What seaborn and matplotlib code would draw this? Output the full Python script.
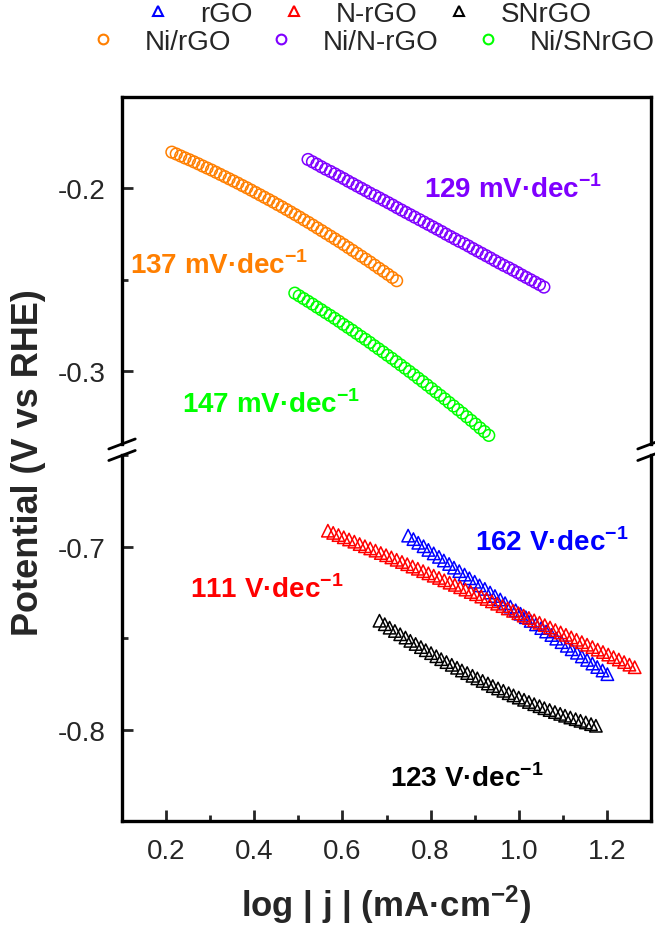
import matplotlib
matplotlib.use('Agg')
import matplotlib.pyplot as plt
from matplotlib.lines import Line2D
from matplotlib.ticker import MultipleLocator
import seaborn as sns

# --- data: x = log|j| (mA cm-2), y = potential (V vs RHE) ---
rgo_x = [0.749, 0.761, 0.772, 0.784, 0.795, 0.807, 0.819, 0.830, 0.842, 0.853,
         0.865, 0.877, 0.888, 0.900, 0.911, 0.923, 0.935, 0.946, 0.958, 0.969,
         0.981, 0.993, 1.004, 1.016, 1.027, 1.039, 1.051, 1.062, 1.074, 1.085,
         1.097, 1.109, 1.120, 1.132, 1.143, 1.155, 1.167, 1.178, 1.190, 1.201]
rgo_y = [-0.6938, -0.6957, -0.6977, -0.6996, -0.7016, -0.7035, -0.7054, -0.7074, -0.7093, -0.7113,
         -0.7132, -0.7151, -0.7171, -0.7190, -0.7210, -0.7229, -0.7249, -0.7268, -0.7287, -0.7307,
         -0.7326, -0.7346, -0.7365, -0.7384, -0.7404, -0.7423, -0.7443, -0.7462, -0.7481, -0.7501,
         -0.7520, -0.7540, -0.7559, -0.7578, -0.7598, -0.7617, -0.7637, -0.7656, -0.7675, -0.7695]

nrgo_x = [0.567, 0.579, 0.591, 0.603, 0.615, 0.627, 0.639, 0.651, 0.663, 0.675,
          0.687, 0.699, 0.711, 0.723, 0.735, 0.747, 0.759, 0.771, 0.783, 0.795,
          0.807, 0.819, 0.831, 0.843, 0.855, 0.867, 0.879, 0.891, 0.903, 0.915,
          0.927, 0.939, 0.951, 0.963, 0.975, 0.987, 0.999, 1.011, 1.023, 1.035,
          1.047, 1.059, 1.071, 1.083, 1.095, 1.107, 1.119, 1.131, 1.143, 1.155,
          1.167, 1.179, 1.191, 1.203, 1.215, 1.227, 1.239, 1.251, 1.263]
nrgo_y = [-0.6911, -0.6923, -0.6935, -0.6947, -0.6959, -0.6971, -0.6984, -0.6996, -0.7008, -0.7020,
          -0.7033, -0.7045, -0.7057, -0.7070, -0.7082, -0.7094, -0.7107, -0.7119, -0.7132, -0.7144,
          -0.7157, -0.7169, -0.7182, -0.7195, -0.7207, -0.7220, -0.7233, -0.7246, -0.7258, -0.7271,
          -0.7284, -0.7297, -0.7310, -0.7323, -0.7336, -0.7349, -0.7362, -0.7375, -0.7388, -0.7401,
          -0.7414, -0.7427, -0.7440, -0.7454, -0.7467, -0.7480, -0.7494, -0.7507, -0.7520, -0.7534,
          -0.7547, -0.7561, -0.7574, -0.7588, -0.7602, -0.7615, -0.7629, -0.7643, -0.7657]

snrgo_x = [0.684, 0.696, 0.707, 0.719, 0.731, 0.743, 0.754, 0.766, 0.778, 0.789,
           0.801, 0.813, 0.824, 0.836, 0.848, 0.860, 0.871, 0.883, 0.895, 0.906,
           0.918, 0.930, 0.941, 0.953, 0.965, 0.977, 0.988, 1.000, 1.012, 1.023,
           1.035, 1.047, 1.058, 1.070, 1.082, 1.094, 1.105, 1.117, 1.129, 1.140,
           1.152, 1.164, 1.175]
snrgo_y = [-0.7403, -0.7422, -0.7441, -0.7459, -0.7477, -0.7495, -0.7513, -0.7530, -0.7547, -0.7564,
           -0.7580, -0.7597, -0.7613, -0.7629, -0.7644, -0.7660, -0.7675, -0.7689, -0.7704, -0.7718,
           -0.7732, -0.7746, -0.7760, -0.7773, -0.7786, -0.7799, -0.7811, -0.7823, -0.7835, -0.7847,
           -0.7859, -0.7870, -0.7881, -0.7891, -0.7902, -0.7912, -0.7922, -0.7932, -0.7941, -0.7950,
           -0.7959, -0.7968, -0.7977]

ni_rgo_x = [0.213, 0.223, 0.233, 0.243, 0.253, 0.263, 0.273, 0.283, 0.293, 0.303,
            0.313, 0.323, 0.333, 0.343, 0.353, 0.363, 0.373, 0.383, 0.393, 0.403,
            0.413, 0.423, 0.433, 0.443, 0.453, 0.463, 0.473, 0.483, 0.493, 0.503,
            0.513, 0.523, 0.533, 0.543, 0.553, 0.563, 0.573, 0.583, 0.593, 0.603,
            0.613, 0.623, 0.633, 0.643, 0.653, 0.663, 0.673, 0.683, 0.693, 0.703,
            0.713, 0.723]
ni_rgo_y = [-0.1802, -0.1812, -0.1823, -0.1834, -0.1844, -0.1855, -0.1866, -0.1878, -0.1889, -0.1900,
            -0.1912, -0.1924, -0.1936, -0.1948, -0.1960, -0.1972, -0.1985, -0.1997, -0.2010, -0.2023,
            -0.2036, -0.2049, -0.2062, -0.2075, -0.2089, -0.2102, -0.2116, -0.2130, -0.2144, -0.2158,
            -0.2173, -0.2187, -0.2202, -0.2217, -0.2232, -0.2247, -0.2262, -0.2277, -0.2292, -0.2308,
            -0.2324, -0.2340, -0.2356, -0.2372, -0.2388, -0.2404, -0.2421, -0.2438, -0.2454, -0.2471,
            -0.2488, -0.2506]

ni_nrgo_x = [0.522, 0.532, 0.542, 0.552, 0.562, 0.573, 0.583, 0.593, 0.603, 0.613,
             0.623, 0.633, 0.643, 0.653, 0.663, 0.674, 0.684, 0.694, 0.704, 0.714,
             0.724, 0.734, 0.744, 0.754, 0.764, 0.775, 0.785, 0.795, 0.805, 0.815,
             0.825, 0.835, 0.845, 0.855, 0.865, 0.876, 0.886, 0.896, 0.906, 0.916,
             0.926, 0.936, 0.946, 0.956, 0.966, 0.977, 0.987, 0.997, 1.007, 1.017,
             1.027, 1.037, 1.047, 1.057]
ni_nrgo_y = [-0.1842, -0.1855, -0.1868, -0.1882, -0.1895, -0.1908, -0.1921, -0.1934, -0.1947, -0.1961,
             -0.1974, -0.1987, -0.2000, -0.2013, -0.2027, -0.2040, -0.2053, -0.2066, -0.2079, -0.2092,
             -0.2106, -0.2119, -0.2132, -0.2145, -0.2158, -0.2172, -0.2185, -0.2198, -0.2211, -0.2224,
             -0.2237, -0.2251, -0.2264, -0.2277, -0.2290, -0.2303, -0.2316, -0.2330, -0.2343, -0.2356,
             -0.2369, -0.2382, -0.2396, -0.2409, -0.2422, -0.2435, -0.2448, -0.2461, -0.2475, -0.2488,
             -0.2501, -0.2514, -0.2527, -0.2541]

ni_snrgo_x = [0.492, 0.502, 0.512, 0.522, 0.532, 0.542, 0.552, 0.562, 0.572, 0.582,
              0.592, 0.602, 0.612, 0.622, 0.632, 0.642, 0.652, 0.662, 0.672, 0.682,
              0.692, 0.702, 0.712, 0.722, 0.732, 0.742, 0.752, 0.762, 0.772, 0.782,
              0.792, 0.802, 0.812, 0.822, 0.832, 0.842, 0.852, 0.862, 0.872, 0.882,
              0.892, 0.902, 0.912, 0.922, 0.932]
ni_snrgo_y = [-0.2574, -0.2589, -0.2604, -0.2619, -0.2634, -0.2650, -0.2665, -0.2681, -0.2696, -0.2712,
              -0.2728, -0.2745, -0.2761, -0.2777, -0.2794, -0.2811, -0.2827, -0.2844, -0.2862, -0.2879,
              -0.2896, -0.2914, -0.2931, -0.2949, -0.2967, -0.2985, -0.3003, -0.3021, -0.3040, -0.3058,
              -0.3077, -0.3096, -0.3115, -0.3134, -0.3153, -0.3173, -0.3192, -0.3212, -0.3231, -0.3251,
              -0.3271, -0.3291, -0.3312, -0.3332, -0.3353]

tri_names = ['rGO', 'N-rGO', 'SNrGO']
tri_colors = ['#0000FF', '#FF0000', '#000000']
cir_names = ['Ni/rGO', 'Ni/N-rGO', 'Ni/SNrGO']
cir_colors = ['#FF7F00', '#7F00FF', '#00FF00']

sns.set_theme(style='ticks')
plt.rcParams['font.family'] = ['Liberation Sans', 'DejaVu Sans']
plt.rcParams['axes.unicode_minus'] = False
plt.rcParams['mathtext.fontset'] = 'custom'
plt.rcParams['mathtext.rm'] = 'Liberation Sans'
plt.rcParams['mathtext.bf'] = 'Liberation Sans:bold'

fig = plt.figure(figsize=(6.55, 9.28), dpi=100)
ax_top = fig.add_axes([0.1863, 0.5205, 0.8076, 0.3739])
ax_bot = fig.add_axes([0.1863, 0.1137, 0.8076, 0.3944])

# circles (Ni-loaded) on the upper panel
for xs, ys, c in zip([ni_rgo_x, ni_nrgo_x, ni_snrgo_x], [ni_rgo_y, ni_nrgo_y, ni_snrgo_y], cir_colors):
    sns.scatterplot(x=xs, y=ys, ax=ax_top, marker='o', s=70, color=c,
                    facecolor='none', edgecolor=c, linewidth=1.1, legend=False)

# triangles on the lower panel
for xs, ys, c in zip([rgo_x, nrgo_x, snrgo_x], [rgo_y, nrgo_y, snrgo_y], tri_colors):
    sns.scatterplot(x=xs, y=ys, ax=ax_bot, marker='^', s=80, color=c,
                    facecolor='none', edgecolor=c, linewidth=1.1, legend=False)

ax_top.set_ylim(-0.34, -0.15)
ax_bot.set_ylim(-0.85, -0.65)
for ax in (ax_top, ax_bot):
    ax.set_xlim(0.1, 1.3)
    ax.set_xlabel('')
    ax.set_ylabel('')
    ax.yaxis.set_major_locator(MultipleLocator(0.1))
    ax.yaxis.set_minor_locator(MultipleLocator(0.05))
    ax.tick_params(axis='y', which='major', direction='in', length=8, width=2,
                   labelsize=20, pad=12, right=False)
    ax.tick_params(axis='y', which='minor', direction='in', length=4, width=2, right=False)
    for sp in ax.spines.values():
        sp.set_linewidth(2.4)
        sp.set_color('black')

ax_top.spines['bottom'].set_visible(False)
ax_top.tick_params(axis='x', which='both', bottom=False, top=False, labelbottom=False)
ax_bot.spines['top'].set_visible(False)
ax_bot.xaxis.set_major_locator(MultipleLocator(0.2))
ax_bot.xaxis.set_minor_locator(MultipleLocator(0.1))
ax_bot.tick_params(axis='x', which='major', direction='in', length=8, width=2,
                   labelsize=20, pad=12, top=False)
ax_bot.tick_params(axis='x', which='minor', direction='in', length=4, width=2, top=False)

# axis break marks
dx = 0.025
for ax, y0, dy in ((ax_top, 0, 0.0144), (ax_bot, 1, 0.0137)):
    for x0 in (0, 1):
        ax.plot([x0 - dx, x0 + dx], [y0 - dy, y0 + dy], transform=ax.transAxes,
                color='black', lw=2, clip_on=False)

# slope annotations
anno = dict(fontsize=20, fontweight='bold', va='center', ha='left')
ax_top.text(0.786, -0.200, r'129 mV·dec$^{\mathbf{-1}}$', color=cir_colors[1], **anno)
ax_top.text(0.118, -0.242, r'137 mV·dec$^{\mathbf{-1}}$', color=cir_colors[0], **anno)
ax_top.text(0.236, -0.318, r'147 mV·dec$^{\mathbf{-1}}$', color=cir_colors[2], **anno)
ax_bot.text(0.900, -0.697, r'162 V·dec$^{\mathbf{-1}}$', color=tri_colors[0], **anno)
ax_bot.text(0.254, -0.723, r'111 V·dec$^{\mathbf{-1}}$', color=tri_colors[1], **anno)
ax_bot.text(0.707, -0.826, r'123 V·dec$^{\mathbf{-1}}$', color=tri_colors[2], **anno)

fig.text(0.043, 0.502, 'Potential (V vs RHE)', rotation=90, fontsize=26,
         fontweight='bold', ha='center', va='center')
fig.text(0.590, 0.025, r'log | j | (mA·cm$^{\mathbf{-2}}$)', fontsize=25,
         fontweight='bold', ha='center', va='center')

# legends (two rows)
tri_handles = [Line2D([], [], ls='', marker='^', ms=7, mfc='none', mec=c, mew=1.5)
               for c in tri_colors]
cir_handles = [Line2D([], [], ls='', marker='o', ms=7, mfc='none', mec=c, mew=1.5)
               for c in cir_colors]
leg1 = fig.legend(tri_handles, tri_names, loc='center', bbox_to_anchor=(0.562, 0.984),
                  ncol=3, frameon=False, fontsize=20, handlelength=1.0,
                  handletextpad=1.0, columnspacing=1.0, borderpad=0, borderaxespad=0)
leg2 = fig.legend(cir_handles, cir_names, loc='center', bbox_to_anchor=(0.568, 0.954),
                  ncol=3, frameon=False, fontsize=20, handlelength=1.0,
                  handletextpad=1.0, columnspacing=1.3, borderpad=0, borderaxespad=0)

fig.savefig('out.png', dpi=100, facecolor='white')
